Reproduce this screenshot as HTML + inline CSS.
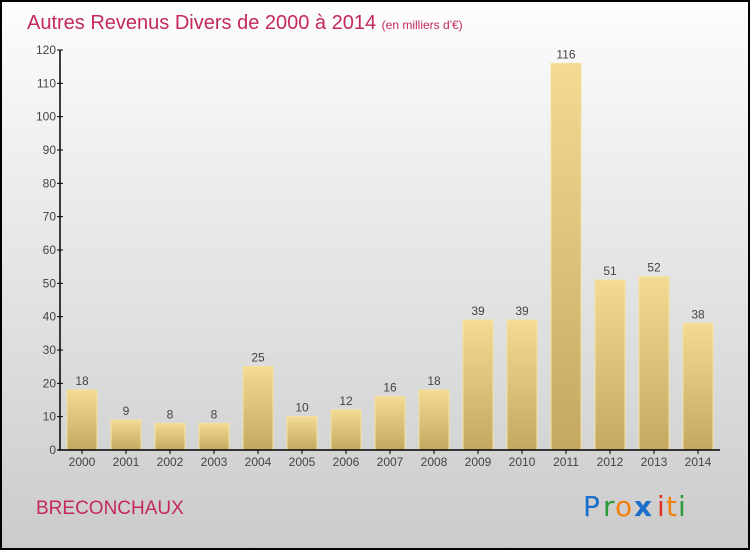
<!DOCTYPE html>
<html><head><meta charset="utf-8"><style>
html,body{margin:0;padding:0;}
body{width:750px;height:550px;overflow:hidden;font-family:"Liberation Sans",sans-serif;}
</style></head><body>
<svg id="chart" width="750" height="550" xmlns="http://www.w3.org/2000/svg">
<defs>
<linearGradient id="bg" x1="0" y1="0" x2="0" y2="1"><stop offset="0" stop-color="#fdfdfd"/><stop offset="1" stop-color="#cbcbcb"/></linearGradient>
<linearGradient id="bar" x1="0" y1="0" x2="0" y2="1"><stop offset="0" stop-color="#f3db93"/><stop offset="1" stop-color="#c4a862"/></linearGradient>
</defs>
<rect x="1" y="1" width="748" height="548" fill="url(#bg)" stroke="#000" stroke-width="2"/>
<text x="27" y="29" font-size="20" fill="#c4285e">Autres Revenus Divers de 2000 à 2014 <tspan font-size="12">(en milliers d'€)</tspan></text>
<g id="plot"></g>
<text x="36" y="514" font-size="19" fill="#c4285e">BRECONCHAUX</text>
<g font-size="28" font-family="'DejaVu Sans',sans-serif">
<text x="583" y="516" fill="#1a6fc9">P</text><text x="603" y="516" fill="#2a9a3a">r</text><text x="615" y="516" fill="#f08010">o</text><text x="634" y="516" fill="#1a6fc9" font-weight="bold">x</text><text x="657" y="516" fill="#e03020">i</text><text x="666" y="516" fill="#f08010">t</text><text x="678" y="516" fill="#2a9a3a">i</text>
</g>
</svg>
<script>
const categories=["2000","2001","2002","2003","2004","2005","2006","2007","2008","2009","2010","2011","2012","2013","2014"];
const values=[18,9,8,8,25,10,12,16,18,39,39,116,51,52,38];
const yTicks=[0,10,20,30,40,50,60,70,80,90,100,110,120];
const NS="http://www.w3.org/2000/svg";
const g=document.getElementById('plot');
const x0=60,band=44,yBase=450,yTop=50,yMax=120;
const y=v=>yBase-(v/yMax)*(yBase-yTop);
const xc=i=>x0+band*i+band/2;
function mk(t,a,p){const e=document.createElementNS(NS,t);for(const k in a)e.setAttribute(k,a[k]);(p||g).appendChild(e);return e;}
categories.forEach((c,i)=>{
 const r=mk('rect',{x:xc(i)-15,y:y(values[i]),width:30,height:yBase-y(values[i]),fill:'url(#bar)',stroke:'#f5e29c','stroke-width':1});
 
 
 const t=mk('text',{x:xc(i),y:y(values[i])-5,'text-anchor':'middle','font-size':12,fill:'#444'});t.textContent=values[i];
 
 
 const l=mk('text',{x:xc(i),y:466,'text-anchor':'middle','font-size':12,fill:'#444'});l.textContent=c;
 
 
 mk('line',{x1:xc(i),x2:xc(i),y1:yBase,y2:yBase+4,stroke:'#000'});
});
yTicks.forEach(v=>{
 mk('line',{x1:x0-3,x2:x0+3,y1:y(v),y2:y(v),stroke:'#000'});
 const t=mk('text',{x:x0-4,y:y(v)+4,'text-anchor':'end','font-size':12,fill:'#444'});t.textContent=v;
 
 
});
const ya=mk('line',{x1:x0,x2:x0,y1:yTop,y2:yBase,stroke:'#000','stroke-width':1.5});


const xa=mk('line',{x1:x0-2,x2:x0+band*categories.length,y1:yBase,y2:yBase,stroke:'#000','stroke-width':1.5});


</script>
</body></html>
